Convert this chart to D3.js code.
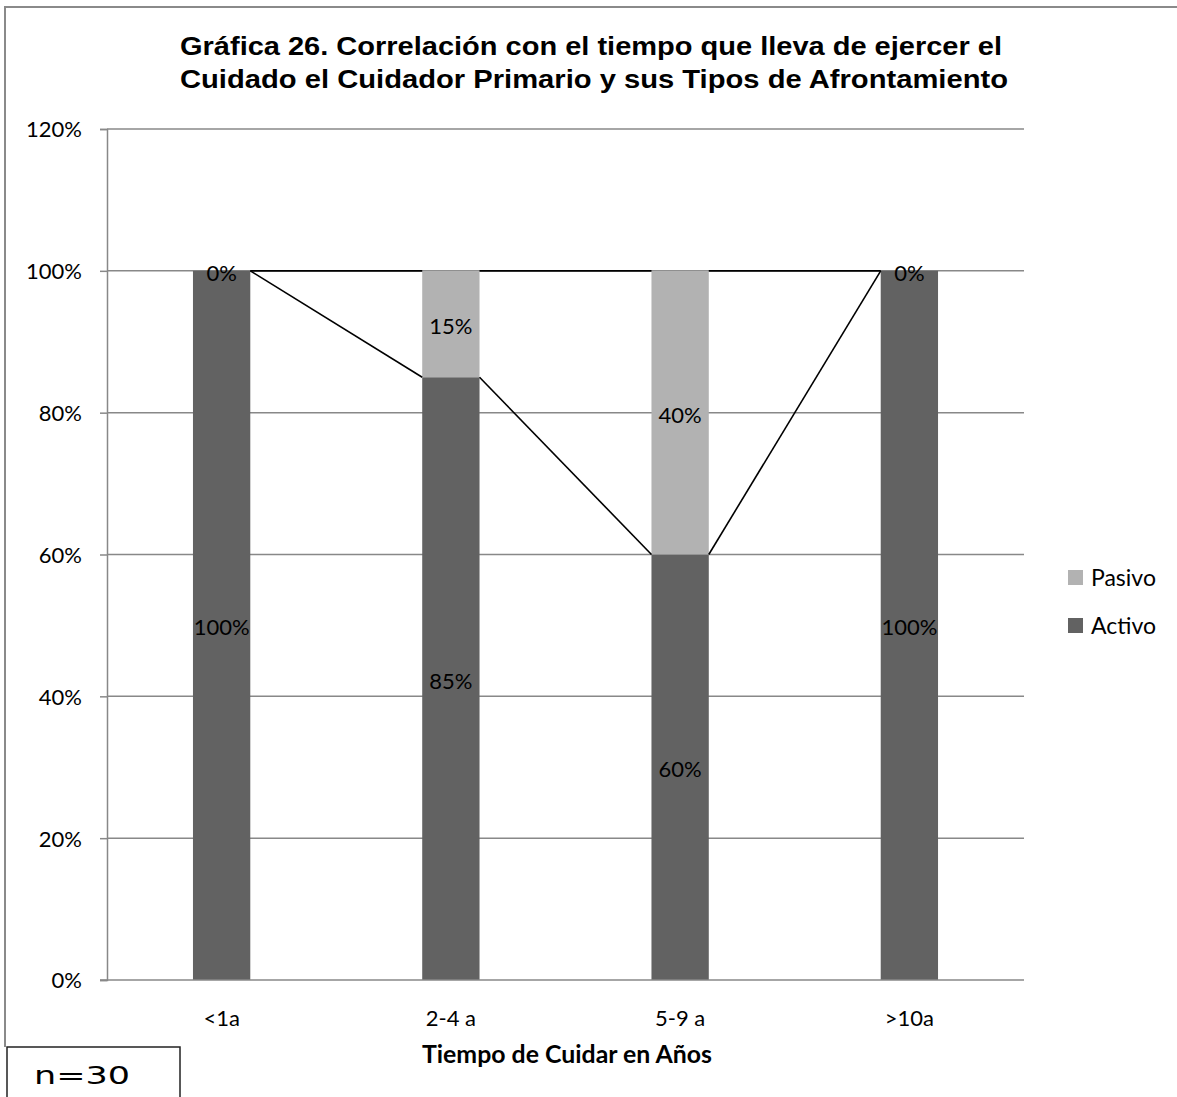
<!DOCTYPE html>
<html><head><meta charset="utf-8">
<script src="https://cdn.jsdelivr.net/npm/d3@7"></script>
<style>body{margin:0;background:#fff}svg{display:block}</style>
</head><body>
<svg id="c" width="1177" height="1097"></svg>
<script>
const categories = ["<1a", "2-4 a", "5-9 a", ">10a"];
const activo = [1.00, 0.85, 0.60, 1.00];
const pasivo = [0.00, 0.15, 0.40, 0.00];
const seriesNames = ["Activo", "Pasivo"];
const yTicks = [0, 0.2, 0.4, 0.6, 0.8, 1.0, 1.2];
const titleLines = ["Gráfica 26. Correlación con el tiempo que lleva de ejercer el",
                    "Cuidado el Cuidador Primario y sus Tipos de Afrontamiento"];
const xTitle = "Tiempo de Cuidar en Años";
const noteText = "n=30";

const colors = {Activo: "#626262", Pasivo: "#b2b2b2"};
const svg = d3.select("#c");
const L = 107, R = 1024, T = 129, B = 980;
const font = "Lato, 'Open Sans', sans-serif";

const x = d3.scaleBand().domain(categories).range([L, R]).paddingInner(0.75).paddingOuter(0.375);
const y = d3.scaleLinear().domain([0, 1.2]).range([B, T]);

// outer frame
svg.append("path").attr("d", "M5,1047V7H1177").attr("fill", "none").attr("stroke", "#8a8a8a").attr("stroke-width", 2);

// title
const titleW = [822, 828];
svg.append("g").selectAll("text").data(titleLines).join("text")
  .attr("x", 180).attr("y", (d, i) => 55 + i * 33)
  .attr("font-family", "'Liberation Sans', Arial, sans-serif")
  .attr("font-weight", "bold").attr("font-size", 25).attr("fill", "#000")
  .attr("textLength", (d, i) => titleW[i]).attr("lengthAdjust", "spacingAndGlyphs").text(d => d);

// gridlines
svg.append("g").selectAll("line").data(yTicks.filter(v => v > 0)).join("line")
  .attr("x1", L).attr("x2", R).attr("y1", d => y(d)).attr("y2", d => y(d))
  .attr("stroke", "#888").attr("stroke-width", 1.5);

// y axis
const yAxis = svg.append("g").attr("transform", `translate(${L},0)`)
  .call(d3.axisLeft(y).tickValues(yTicks).tickFormat(d3.format(".0%")).tickSize(7).tickPadding(18));
yAxis.select(".domain").attr("stroke", "#888").attr("stroke-width", 1.5);
yAxis.selectAll(".tick line").attr("stroke", "#888").attr("stroke-width", 1.5);
yAxis.selectAll(".tick text").attr("font-family", font).attr("font-size", 22).attr("fill", "#000").attr("dy", "0.36em");

// stacked bars
const table = categories.map((c, i) => ({cat: c, Activo: activo[i], Pasivo: pasivo[i]}));
const stack = d3.stack().keys(seriesNames)(table);
const gBars = svg.append("g");
stack.forEach(s => {
  gBars.append("g").attr("fill", colors[s.key]).selectAll("rect").data(s).join("rect")
    .attr("x", d => x(d.data.cat)).attr("width", x.bandwidth())
    .attr("y", d => y(d[1])).attr("height", d => y(d[0]) - y(d[1]));
});

// x axis
const xAxis = svg.append("g").attr("transform", `translate(0,${B})`)
  .call(d3.axisBottom(x).tickSize(0).tickPadding(30));
xAxis.select(".domain").remove();
svg.append("line").attr("x1", L - 7).attr("x2", R).attr("y1", B).attr("y2", B).attr("stroke", "#888").attr("stroke-width", 1.5);
xAxis.selectAll(".tick text").attr("font-family", font).attr("font-size", 22).attr("fill", "#000");

// series lines
const gLines = svg.append("g").attr("stroke", "#000").attr("stroke-width", 1.6).attr("fill", "none");
stack.forEach(s => {
  for (let i = 0; i < s.length - 1; i++) {
    gLines.append("line")
      .attr("x1", x(s[i].data.cat) + x.bandwidth()).attr("y1", y(s[i][1]))
      .attr("x2", x(s[i + 1].data.cat)).attr("y2", y(s[i + 1][1]));
  }
});

// data labels
const gLab = svg.append("g").attr("font-family", font).attr("font-size", 22).attr("fill", "#000").attr("text-anchor", "middle");
stack.forEach(s => {
  gLab.selectAll(null).data(s).join("text")
    .attr("x", d => x(d.data.cat) + x.bandwidth() / 2)
    .attr("y", d => (y(d[0]) + y(d[1])) / 2 + 10)
    .text(d => d3.format(".0%")(d[1] - d[0]));
});

// x title
svg.append("text").attr("x", 567).attr("y", 1063).attr("text-anchor", "middle")
  .attr("font-family", font).attr("font-weight", "bold").attr("font-size", 24).attr("fill", "#000")
  .attr("textLength", 290).attr("lengthAdjust", "spacingAndGlyphs").text(xTitle);

// legend
const legendOrder = ["Pasivo", "Activo"];
const gLeg = svg.append("g");
legendOrder.forEach((k, i) => {
  const cy = 577 + i * 48;
  gLeg.append("rect").attr("x", 1068).attr("y", cy - 7).attr("width", 15).attr("height", 15).attr("fill", colors[k]);
  gLeg.append("text").attr("x", 1091).attr("y", cy + 9).attr("font-family", font).attr("font-size", 23).attr("fill", "#000").text(k);
});

// n box
svg.append("rect").attr("x", 7).attr("y", 1047).attr("width", 173).attr("height", 60)
  .attr("fill", "#fff").attr("stroke", "#222").attr("stroke-width", 1.5);
svg.append("text").attr("x", 34).attr("y", 1084).attr("font-family", "'DejaVu Sans', sans-serif")
  .attr("font-size", 24).attr("fill", "#000").attr("textLength", 96).attr("lengthAdjust", "spacingAndGlyphs").text(noteText);
</script>
</body></html>
